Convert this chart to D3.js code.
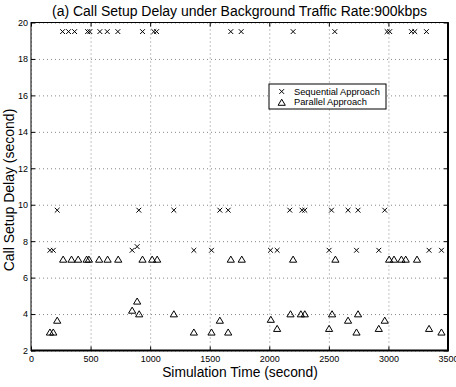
<!DOCTYPE html>
<html>
<head>
<meta charset="utf-8">
<script src="https://cdn.jsdelivr.net/npm/d3@7"></script>
<style>
  body { margin: 0; background: #fff; }
  svg { font-family: "Liberation Sans", Arial, sans-serif; }
</style>
</head>
<body>
<div id="chart"></div>
<script>
// sequential approach (x markers)
const seqTime = [265, 315, 366, 475, 494, 578, 640, 729, 936, 1031, 1054, 1677, 1764, 2200, 2550, 2989, 3011, 3193, 3221, 3319,
  220, 905, 1199, 1585, 1655, 2172, 2275, 2298, 2522, 2661, 2745, 2969,
  159, 187, 849, 891, 1367, 1515, 2010, 2066, 2502, 2732, 2919, 3341, 3445]
const seqDelay = [19.5, 19.5, 19.5, 19.5, 19.5, 19.5, 19.5, 19.5, 19.5, 19.5, 19.5, 19.5, 19.5, 19.5, 19.5, 19.5, 19.5, 19.5, 19.5, 19.5,
  9.7, 9.7, 9.7, 9.7, 9.7, 9.7, 9.7, 9.7, 9.7, 9.7, 9.7, 9.7,
  7.5, 7.5, 7.5, 7.7, 7.5, 7.5, 7.5, 7.5, 7.5, 7.5, 7.5, 7.5, 7.5]

// parallel approach (triangles)
const parTime = [270, 340, 396, 467, 486, 572, 643, 732, 936, 1017, 1059, 1677, 1769, 2200, 2555, 3006, 3047, 3109, 3145, 3240,
  159, 187, 220, 849, 891, 908, 1199, 1367, 1515, 1585, 1655, 2013, 2066, 2178, 2265, 2298,
  2502, 2527, 2661, 2732, 2745, 2919, 2969, 3341, 3445]
const parDelay = [7, 7, 7, 7, 7, 7, 7, 7, 7, 7, 7, 7, 7, 7, 7, 7, 7, 7, 7, 7,
  3.0, 3.0, 3.65, 4.2, 4.7, 4.0, 4.0, 3.0, 3.0, 3.65, 3.0, 3.7, 3.2, 4.0, 4.0, 4.0,
  3.2, 4.0, 3.65, 3.0, 4.0, 3.2, 3.65, 3.2, 3.0]

const xTicks = [0, 500, 1000, 1500, 2000, 2500, 3000, 3500]
const yTicks = [2, 4, 6, 8, 10, 12, 14, 16, 18, 20]
const legendLabels = ['Sequential Approach', 'Parallel Approach']
const title = '(a) Call Setup Delay under Background Traffic Rate:900kbps'

const W = 456
const H = 387
const m = { left: 31, right: 448, top: 22.5, bottom: 350.5 }

const svg = d3.select('#chart').append('svg')
  .attr('width', W)
  .attr('height', H)

const x = d3.scaleLinear().domain([0, 3500]).range([m.left, m.right])
const y = d3.scaleLinear().domain([2, 20]).range([m.bottom, m.top])

// grid
svg.append('g')
  .attr('transform', 'translate(0,' + m.bottom + ')')
  .call(d3.axisBottom(x).tickValues(xTicks).tickSize(-(m.bottom - m.top)).tickFormat(''))
  .call(g => g.select('.domain').remove())
  .selectAll('line')
  .attr('stroke', '#888')
  .attr('stroke-dasharray', '1,3')

svg.append('g')
  .attr('transform', 'translate(' + m.left + ',0)')
  .call(d3.axisLeft(y).tickValues(yTicks).tickSize(-(m.right - m.left)).tickFormat(''))
  .call(g => g.select('.domain').remove())
  .selectAll('line')
  .attr('stroke', '#888')
  .attr('stroke-dasharray', '1,3')

// markers
const seq = seqTime.map((t, i) => [t, seqDelay[i]])
const par = parTime.map((t, i) => [t, parDelay[i]])

const cross = 2.4
const crossPath = (cx, cy) => 'M' + (cx - cross) + ',' + (cy - cross) + 'L' + (cx + cross) + ',' + (cy + cross) +
  'M' + (cx - cross) + ',' + (cy + cross) + 'L' + (cx + cross) + ',' + (cy - cross)
const tri = (cx, cy) => 'M' + cx + ',' + (cy - 3.3) + 'L' + (cx + 3.6) + ',' + (cy + 2.8) +
  'L' + (cx - 3.6) + ',' + (cy + 2.8) + 'Z'

svg.append('g').selectAll('path')
  .data(seq)
  .enter()
  .append('path')
  .attr('d', d => crossPath(x(d[0]), y(d[1])))
  .attr('stroke', '#000')
  .attr('stroke-width', 1)

svg.append('g').selectAll('path')
  .data(par)
  .enter()
  .append('path')
  .attr('d', d => tri(x(d[0]), y(d[1])))
  .attr('fill', 'none')
  .attr('stroke', '#000')
  .attr('stroke-width', 1)

// axes box
const tickStyle = g => {
  g.select('.domain').remove()
  g.selectAll('line').attr('stroke', '#000')
  g.selectAll('text').attr('font-size', 9).attr('fill', '#000')
}

svg.append('g')
  .attr('transform', 'translate(0,' + m.bottom + ')')
  .call(d3.axisBottom(x).tickValues(xTicks).tickSizeInner(-4).tickSizeOuter(0).tickPadding(5)
    .tickFormat(d3.format('d')))
  .call(tickStyle)

svg.append('g')
  .attr('transform', 'translate(0,' + m.top + ')')
  .call(d3.axisTop(x).tickValues(xTicks).tickSizeInner(-4).tickSizeOuter(0).tickFormat(''))
  .call(tickStyle)

svg.append('g')
  .attr('transform', 'translate(' + m.left + ',0)')
  .call(d3.axisLeft(y).tickValues(yTicks).tickSizeInner(-4).tickSizeOuter(0).tickPadding(3)
    .tickFormat(d3.format('d')))
  .call(tickStyle)

svg.append('g')
  .attr('transform', 'translate(' + m.right + ',0)')
  .call(d3.axisRight(y).tickValues(yTicks).tickSizeInner(-4).tickSizeOuter(0).tickFormat(''))
  .call(tickStyle)

svg.append('rect')
  .attr('x', m.left)
  .attr('y', m.top)
  .attr('width', m.right - m.left)
  .attr('height', m.bottom - m.top)
  .attr('fill', 'none')
  .attr('stroke', '#000')
  .attr('stroke-width', 1)

// bottom and right edges print heavier in the original
svg.append('path')
  .attr('d', 'M' + m.left + ',' + m.bottom + 'H' + m.right + 'V' + m.top)
  .attr('fill', 'none')
  .attr('stroke', '#000')
  .attr('stroke-width', 2)

// legend
const lg = svg.append('g').attr('transform', 'translate(269,84)')
lg.append('rect')
  .attr('width', 117)
  .attr('height', 25)
  .attr('fill', '#fff')
  .attr('stroke', '#000')
  .attr('stroke-width', 1)

lg.append('path')
  .attr('d', crossPath(12.7, 7.5))
  .attr('stroke', '#000')
lg.append('path')
  .attr('d', tri(12.7, 18.5))
  .attr('fill', 'none')
  .attr('stroke', '#000')

lg.selectAll('text')
  .data(legendLabels)
  .enter()
  .append('text')
  .attr('x', 25)
  .attr('y', (d, i) => 10.5 + i * 10)
  .attr('font-size', 9.3)
  .text(d => d)

// titles
svg.append('text')
  .attr('x', 239.5)
  .attr('y', 15.5)
  .attr('text-anchor', 'middle')
  .attr('font-size', 14)
  .attr('textLength', 375)
  .attr('lengthAdjust', 'spacing')
  .text(title)

svg.append('text')
  .attr('x', 240)
  .attr('y', 377)
  .attr('text-anchor', 'middle')
  .attr('font-size', 13.8)
  .text('Simulation Time (second)')

svg.append('text')
  .attr('transform', 'translate(14,190) rotate(-90)')
  .attr('text-anchor', 'middle')
  .attr('font-size', 14)
  .text('Call Setup Delay (second)')
</script>
</body>
</html>
